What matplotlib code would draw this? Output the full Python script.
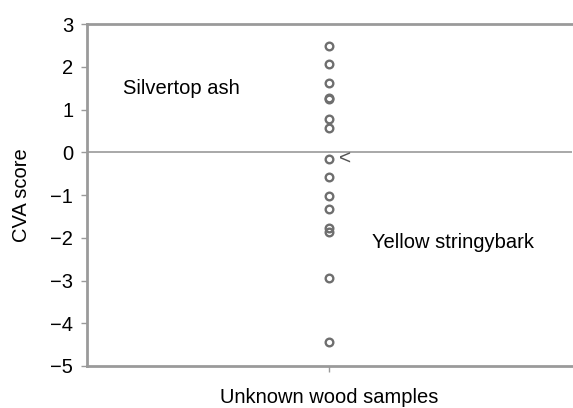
import numpy as np
import matplotlib.pyplot as plt

plt.rcParams['font.family'] = ['Liberation Sans', 'DejaVu Sans']

# CVA scores of the unknown wood samples
scores = [2.49, 2.06, 1.63, 1.26, 1.24, 0.79, 0.56, -0.165, -0.57,
          -1.02, -1.32, -1.77, -1.87, -2.95, -4.45]
sample_x = np.ones(len(scores))
flagged = -0.165

grey = '#9a9a9a'
fs = 14.5

fig = plt.figure(figsize=(5.73, 4.08), dpi=100)
ax = fig.add_axes([0.152, 0.103, 0.846, 0.838])

ax.axhline(0, color=grey, lw=1.2, zorder=1)
ax.plot(sample_x, scores, 'o', mfc='none', mec='#6e6e6e', mew=1.7, ms=5.5, zorder=3)
ax.text(1.04, flagged, '<', fontsize=15, color='#555555', va='center', ha='left')

ax.text(0.148, 1.5, 'Silvertop ash', fontsize=fs, va='center')
ax.text(1.175, -2.12, 'Yellow stringybark', fontsize=fs, va='center')

ax.set_xlim(0, 2)
ax.set_ylim(-5, 3)
ax.set_xticks([1])
ax.set_xticklabels([''])
ax.set_yticks(range(-5, 4))
ax.set_yticklabels([str(v).replace('-', '\u2212') for v in range(-5, 4)])

for side in ['left', 'top', 'bottom']:
    ax.spines[side].set_color(grey)
    ax.spines[side].set_linewidth(2)
ax.spines['right'].set_visible(False)
ax.tick_params(axis='both', color=grey, length=4, width=1, labelsize=fs, pad=6)

ax.set_xlabel('Unknown wood samples', fontsize=fs, va='center')
ax.set_ylabel('CVA score', fontsize=fs, va='center')
ax.xaxis.set_label_coords(0.5, -0.091)
ax.yaxis.set_label_coords(-0.136, 0.5)

plt.savefig('out.png')
